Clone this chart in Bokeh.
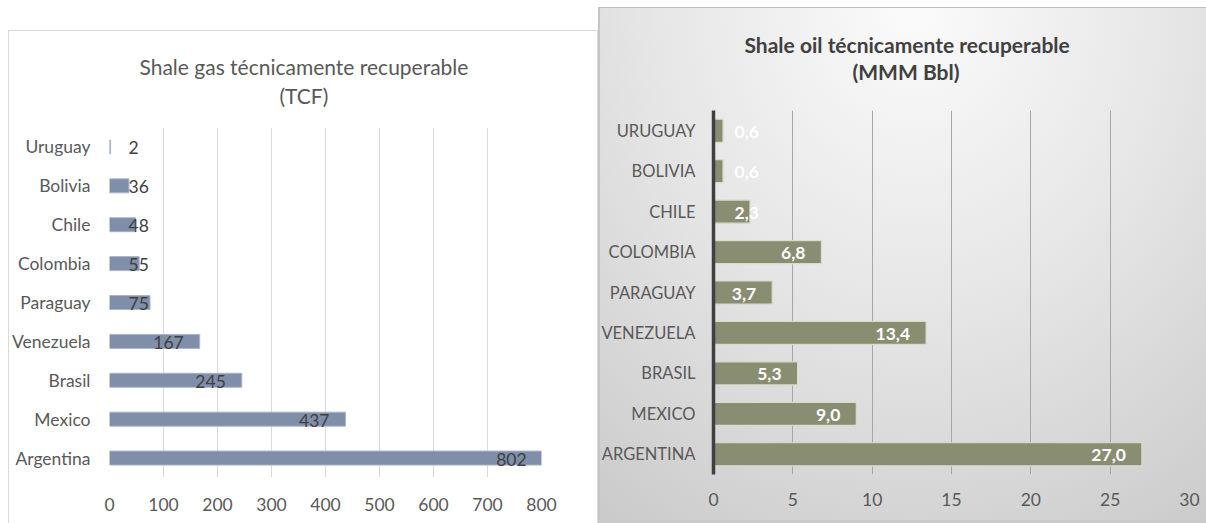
from bokeh.plotting import figure
from bokeh.models import (ColumnDataSource, FactorRange, Range1d, SingleIntervalTicker,
                          Title)
from bokeh.layouts import row
from bokeh.core.properties import value
from bokeh.embed import file_html
from bokeh.resources import INLINE

# ---------------- data ----------------
gas_countries = ["Argentina", "Mexico", "Brasil", "Venezuela", "Paraguay",
                 "Colombia", "Chile", "Bolivia", "Uruguay"]
gas_values = [802, 437, 245, 167, 75, 55, 48, 36, 2]
gas_title = ["Shale gas técnicamente recuperable", "(TCF)"]

oil_countries = ["ARGENTINA", "MEXICO", "BRASIL", "VENEZUELA", "PARAGUAY",
                 "COLOMBIA", "CHILE", "BOLIVIA", "URUGUAY"]
oil_values = [27.0, 9.0, 5.3, 13.4, 3.7, 6.8, 2.3, 0.6, 0.6]
oil_title = ["Shale oil técnicamente recuperable", "(MMM Bbl)"]

FONT = "Lato"


def style_axes(p, tick_color):
    for ax in (p.xaxis[0], p.yaxis[0]):
        ax.axis_line_color = None
        ax.major_tick_line_color = None
        ax.minor_tick_line_color = None
        ax.major_tick_out = 0
        ax.major_tick_in = 0
        ax.minor_tick_out = 0
        ax.minor_tick_in = 0
        ax.major_label_text_font = FONT
        ax.major_label_text_font_size = "17.5px"
        ax.major_label_text_color = tick_color


def add_titles(p, lines, offsets, spacer, gap, style, color):
    # first added sits nearest the frame
    p.add_layout(Title(text=" ", text_font_size="1px", standoff=spacer), "above")
    p.add_layout(Title(text=lines[1], align="left", offset=offsets[1], standoff=gap,
                       text_font=FONT, text_font_size="21px", text_font_style=style,
                       text_color=color), "above")
    p.add_layout(Title(text=lines[0], align="left", offset=offsets[0], standoff=gap,
                       text_font=FONT, text_font_size="21px", text_font_style=style,
                       text_color=color), "above")


# borders are shared along the row, so both charts use the same top/bottom borders
TOP, BOTTOM = 103, 46

# ---------------- left chart: shale gas ----------------
pg = figure(width=590, height=499, y_range=FactorRange(factors=gas_countries),
            x_range=Range1d(0, 800), output_backend="svg", toolbar_location=None,
            title=None, min_border_left=101, min_border_right=57,
            min_border_top=TOP, min_border_bottom=BOTTOM)
pg.margin = (24, 0, 0, 8)
pg.background_fill_alpha = 0
pg.border_fill_alpha = 0
pg.outline_line_color = None
pg.styles = {"background": "#ffffff",
             "box-shadow": ("inset 0 6px 0 0 #ffffff, inset 0 7px 0 0 #d9d9d9, "
                            "inset 1px 0 0 0 #d9d9d9, inset -1px 0 0 0 #d9d9d9")}

gsrc = ColumnDataSource(dict(country=gas_countries, val=gas_values))
pg.hbar(y="country", right="val", left=0, height=0.36, source=gsrc,
        fill_color="#7f8ea9", line_color="#aab5c8", line_width=1)

big = [i for i, v in enumerate(gas_values) if v >= 100]
small = [i for i, v in enumerate(gas_values) if v < 100]
gbig = ColumnDataSource(dict(country=[gas_countries[i] for i in big],
                             val=[gas_values[i] for i in big],
                             lab=[str(gas_values[i]) for i in big]))
gsmall = ColumnDataSource(dict(country=[gas_countries[i] for i in small],
                               val=[0 for i in small],
                               lab=[str(gas_values[i]) for i in small]))
pg.text(x="val", y="country", text="lab", source=gbig, text_align="right",
        text_baseline="middle", x_offset=-16, y_offset=1,
        text_font=value(FONT), text_font_size="17.5px", text_color="#404040")
pg.text(x="val", y="country", text="lab", source=gsmall, text_align="left",
        text_baseline="middle", x_offset=19, y_offset=1,
        text_font=value(FONT), text_font_size="17.5px", text_color="#404040")

pg.xaxis.ticker = SingleIntervalTicker(interval=100)
pg.xgrid.ticker = SingleIntervalTicker(interval=100)
pg.xgrid.grid_line_color = "#d9d9d9"
pg.ygrid.grid_line_color = None
style_axes(pg, "#595959")
pg.xaxis.major_label_standoff = 20
pg.yaxis.major_label_standoff = 19

add_titles(pg, gas_title, [30, 170], 16, 2, "normal", "#595959")

# ---------------- right chart: shale oil ----------------
po = figure(width=608, height=513, y_range=FactorRange(factors=oil_countries),
            x_range=Range1d(0, 30), output_backend="svg", toolbar_location=None,
            title=None, min_border_left=114, min_border_right=17,
            min_border_top=TOP, min_border_bottom=BOTTOM)
po.margin = (7, 0, 3, 0)
po.background_fill_alpha = 0
po.border_fill_alpha = 0
po.outline_line_color = None
po.styles = {"background": "radial-gradient(ellipse 95% 130% at 52% 0%, #fbfbfb 0%, #e6e6e6 45%, #c7c7c7 100%)",
             "box-shadow": "inset 2px 0 0 #c4c4c4, inset 0 1px 0 #bdbdbd, 0 3px 0 0 #cacaca"}

osrc = ColumnDataSource(dict(country=oil_countries, val=oil_values))
po.hbar(y="country", right="val", left=0, height=0.57, source=osrc,
        fill_color="#898d72", line_color="#d9dccb", line_width=1.2)

fmt = lambda v: f"{v:.1f}".replace(".", ",")
obig = [i for i, v in enumerate(oil_values) if v >= 3]
osmall = [i for i, v in enumerate(oil_values) if v < 3]
ob = ColumnDataSource(dict(country=[oil_countries[i] for i in obig],
                           val=[oil_values[i] for i in obig],
                           lab=[fmt(oil_values[i]) for i in obig]))
os_ = ColumnDataSource(dict(country=[oil_countries[i] for i in osmall],
                            val=[0 for i in osmall],
                            lab=[fmt(oil_values[i]) for i in osmall]))
po.text(x="val", y="country", text="lab", source=ob, text_align="right",
        text_baseline="middle", x_offset=-16, y_offset=1,
        text_font=value(FONT), text_font_size="17.5px", text_font_style="bold",
        text_color="#ffffff")
po.text(x="val", y="country", text="lab", source=os_, text_align="left",
        text_baseline="middle", x_offset=21, y_offset=1,
        text_font=value(FONT), text_font_size="17.5px", text_font_style="bold",
        text_color="#ffffff")

po.xaxis.ticker = SingleIntervalTicker(interval=5)
po.xgrid.ticker = SingleIntervalTicker(interval=5)
po.xgrid.grid_line_color = "#a6a6a6"
po.ygrid.grid_line_color = None
style_axes(po, "#595959")
po.yaxis.major_label_text_font_size = "16.5px"
po.yaxis.axis_line_color = "#404040"
po.yaxis.axis_line_width = 3.5
po.xaxis.major_label_standoff = 18
po.yaxis.major_label_standoff = 18

add_titles(po, oil_title, [31, 139], 24, 0, "bold", "#404040")

layout = row(pg, po, spacing=0)
open("out.html", "w").write(file_html(layout, INLINE))
